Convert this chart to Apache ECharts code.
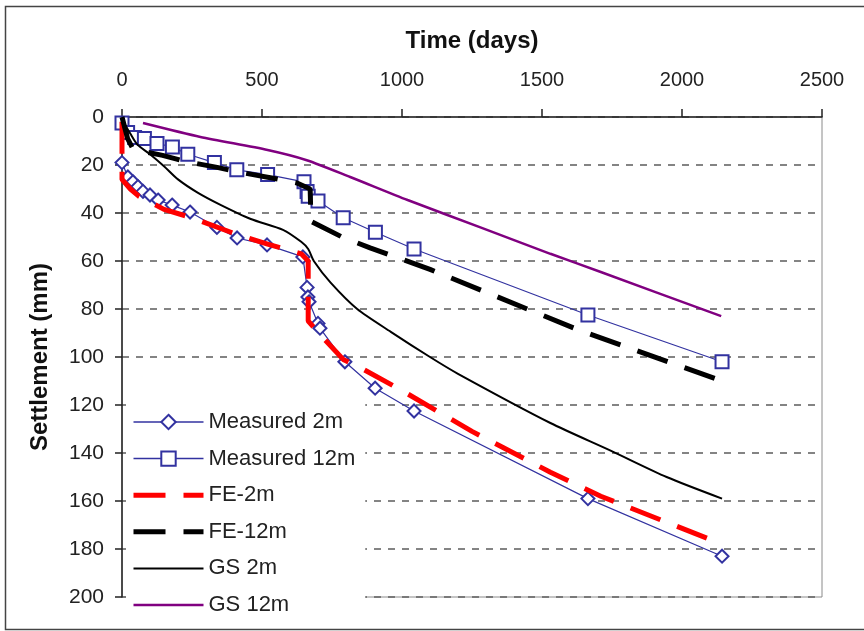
<!DOCTYPE html>
<html>
<head>
<meta charset="utf-8">
<script src="https://cdn.jsdelivr.net/npm/echarts@6/dist/echarts.min.js"></script>
<style>
  html, body { margin: 0; padding: 0; background: #fff; }
  #chart { width: 864px; height: 631px; }
</style>
</head>
<body>
<div id="chart"></div>
<script>
// Settlement vs time, measured and predicted, at 2 m and 12 m depth
const xTicks = [0, 500, 1000, 1500, 2000, 2500];
const yTicks = [0, 20, 40, 60, 80, 100, 120, 140, 160, 180, 200];

const measured2mDays = [0, 21, 39, 57, 75, 100, 129, 179, 243, 339, 411, 518, 646, 661, 664, 668, 700, 707, 796, 904, 1043, 1664, 2143];
const measured2mMm   = [19, 25, 27, 29, 31, 32.5, 34.6, 36.7, 39.6, 46, 50.4, 53.3, 58.3, 71, 75, 77, 86, 88, 102, 113, 122.5, 159, 183];

const measured12mDays = [0, 20, 45, 80, 125, 180, 235, 330, 410, 520, 650, 661, 665, 700, 790, 905, 1043, 1664, 2143];
const measured12mMm   = [2.5, 6.5, 8.5, 9, 11, 12.5, 15.5, 19, 22, 24, 27, 31, 33, 35, 42, 48, 55, 82.5, 102];

const fe2mDays = [0, 0, 30, 60, 150, 250, 400, 520, 640, 665, 665, 718, 790, 860, 1000, 1250, 1530, 1710, 2143];
const fe2mMm   = [2, 26, 30, 33, 38.5, 42, 48.5, 53, 57, 60, 85, 92, 101, 105, 114, 131, 148, 158, 178];

const fe12mDays = [0, 20, 40, 145, 225, 340, 420, 540, 625, 672, 675, 786, 886, 1100, 1636, 2143];
const fe12mMm   = [0, 9, 13.5, 16, 18.5, 21, 23, 25.5, 27.5, 30, 43.5, 50, 54.5, 63.5, 89, 110];

const gs2mDays = [0, 30, 55, 100, 150, 200, 270, 350, 460, 575, 640, 665, 685, 745, 840, 960, 1100, 1200, 1530, 1745, 1945, 2143];
const gs2mMm   = [1, 7, 11.5, 15.5, 20.5, 26, 31.5, 36.5, 42.5, 47, 52, 55, 60, 69, 80, 89.5, 100, 107, 127.5, 139, 150, 159];

const gs12mDays = [75, 280, 520, 660, 815, 1020, 1280, 1530, 1710, 2140];
const gs12mMm   = [2.5, 8.3, 13.75, 18, 25, 34.6, 46, 57, 64.6, 83];

const seriesNames = ['Measured 2m', 'Measured 12m', 'FE-2m', 'FE-12m', 'GS 2m', 'GS 12m'];

function pairs(xs, ys) {
  return xs.map((x, i) => [x, ys[i]]);
}

const BLUE = '#3232a0';
const FONT = '"Liberation Sans", Arial, sans-serif';
const DASH = [32, 18];

const chart = echarts.init(document.getElementById('chart'), null, { renderer: 'canvas' });

chart.setOption({
  animation: false,
  backgroundColor: '#fff',
  grid: {
    left: 122, top: 117, width: 700, height: 480,
    show: true, borderColor: '#8a8a8a', borderWidth: 1, backgroundColor: 'transparent'
  },
  graphic: [{
    type: 'rect',
    shape: { x: 5.5, y: 6.5, width: 900, height: 623 },
    style: { fill: 'none', stroke: '#444', lineWidth: 1.5 },
    silent: true, z: 0
  }],
  xAxis: {
    type: 'value',
    position: 'top',
    min: xTicks[0], max: xTicks[xTicks.length - 1], interval: 500,
    name: 'Time (days)',
    nameLocation: 'middle',
    nameGap: 64,
    nameTextStyle: { fontFamily: FONT, fontSize: 24, fontWeight: 'bold', color: '#111' },
    axisLine: { show: true, lineStyle: { color: '#222', width: 1.5 } },
    axisTick: { show: true, inside: false, length: 8, lineStyle: { color: '#222', width: 1.5 } },
    axisLabel: { fontFamily: FONT, fontSize: 20, color: '#222', margin: 27, formatter: v => String(v) },
    splitLine: { show: false }
  },
  yAxis: {
    type: 'value',
    inverse: true,
    min: yTicks[0], max: yTicks[yTicks.length - 1], interval: 20,
    name: 'Settlement (mm)',
    nameLocation: 'middle',
    nameGap: 70,
    nameRotate: 90,
    nameTextStyle: { fontFamily: FONT, fontSize: 24, fontWeight: 'bold', color: '#111' },
    axisLine: { show: true, onZero: false, lineStyle: { color: '#222', width: 1.5 } },
    axisTick: { show: true, inside: false, length: 7, lineStyle: { color: '#222', width: 1.5 } },
    axisLabel: { fontFamily: FONT, fontSize: 21, color: '#222', margin: 18, formatter: v => String(v) },
    splitLine: { show: true, lineStyle: { color: '#666', width: 1.6, type: [7, 7] } }
  },
  legend: {
    orient: 'vertical',
    left: 126, top: 398,
    padding: [13, 10, 6, 5],
    backgroundColor: '#fff',
    itemWidth: 70, itemHeight: 18, itemGap: 14.6,
    textStyle: { fontFamily: FONT, fontSize: 22, color: '#222', lineHeight: 22 },
    data: [
      { name: seriesNames[0], lineStyle: { width: 1.5 } },
      { name: seriesNames[1], lineStyle: { width: 1.5 } },
      { name: seriesNames[2], lineStyle: { width: 5, type: DASH }, itemStyle: { opacity: 0 } },
      { name: seriesNames[3], lineStyle: { width: 5, type: DASH }, itemStyle: { opacity: 0 } },
      { name: seriesNames[4], lineStyle: { width: 2 }, itemStyle: { opacity: 0 } },
      { name: seriesNames[5], lineStyle: { width: 2.5 }, itemStyle: { opacity: 0 } }
    ],
    z: 10
  },
  series: [
    {
      name: seriesNames[0], type: 'line',
      data: pairs(measured2mDays, measured2mMm),
      symbol: 'emptyDiamond', symbolSize: 13,
      color: BLUE,
      lineStyle: { color: BLUE, width: 1.2 },
      itemStyle: { color: BLUE, borderColor: BLUE, borderWidth: 1.2 },
      z: 2
    },
    {
      name: seriesNames[1], type: 'line',
      data: pairs(measured12mDays, measured12mMm),
      symbol: 'emptyRect', symbolSize: 13,
      color: BLUE,
      lineStyle: { color: BLUE, width: 1.2 },
      itemStyle: { color: BLUE, borderColor: BLUE, borderWidth: 1.2 },
      z: 2
    },
    {
      name: seriesNames[2], type: 'line',
      data: pairs(fe2mDays, fe2mMm),
      symbol: 'none', color: '#ff0000',
      lineStyle: { color: '#ff0000', width: 5, type: DASH },
      z: 3
    },
    {
      name: seriesNames[3], type: 'line',
      data: pairs(fe12mDays, fe12mMm),
      symbol: 'none', color: '#000',
      lineStyle: { color: '#000', width: 5, type: DASH },
      z: 3
    },
    {
      name: seriesNames[4], type: 'line',
      data: pairs(gs2mDays, gs2mMm),
      symbol: 'none', color: '#000', smooth: 0.25,
      lineStyle: { color: '#000', width: 2 },
      z: 4
    },
    {
      name: seriesNames[5], type: 'line',
      data: pairs(gs12mDays, gs12mMm),
      symbol: 'none', color: '#800080', smooth: 0.25,
      lineStyle: { color: '#800080', width: 2.5 },
      z: 4
    }
  ]
});
</script>
</body>
</html>
